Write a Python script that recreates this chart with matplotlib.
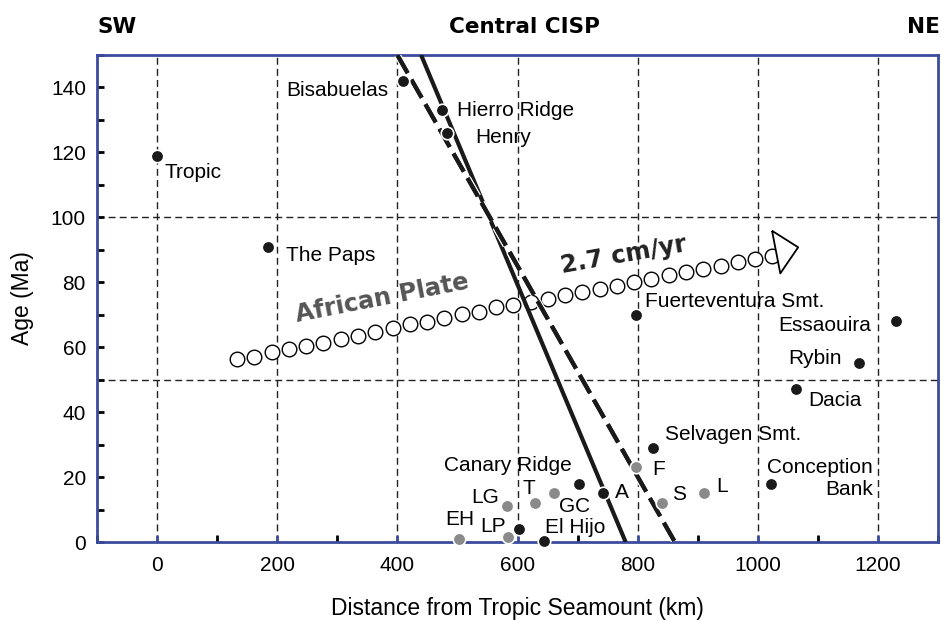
import matplotlib
matplotlib.use("Agg")
import matplotlib.pyplot as plt
import matplotlib.patheffects as pe
from matplotlib.ticker import MultipleLocator

plt.rcParams['font.family'] = ['Liberation Sans', 'DejaVu Sans']

# seamounts with ages (black dots)
black_names = ['Tropic', 'The Paps', 'Bisabuelas', 'Hierro Ridge', 'Henry',
               'Fuerteventura Smt.', 'Essaouira', 'Rybin', 'Dacia', 'Selvagen Smt.',
               'Conception Bank', 'Canary Ridge', 'A', 'LP', 'El Hijo']
black_x = [0, 185, 410, 474, 483, 798, 1230, 1168, 1064, 826, 1022, 703, 742, 602, 644]
black_y = [119, 91, 142, 133, 126, 70, 68, 55, 47, 29, 18, 18, 15, 4, 0.4]

# island volcanism (grey dots)
grey_names = ['EH', 'LG', 'LP', 'T', 'GC', 'F', 'S', 'L']
grey_x = [502, 583, 584, 629, 661, 798, 840, 910]
grey_y = [1, 11, 1.6, 12, 15, 23, 12, 15]

# African plate track (open circles)
track_x = [133, 162, 191, 219, 248, 277, 306, 334, 363, 392, 421, 449, 478, 507, 536, 564,
           593, 622, 651, 679, 708, 737, 766, 794, 823, 852, 881, 909, 938, 967, 996, 1024]
track_y = [56.3, 57.1, 58.4, 59.3, 60.4, 61.4, 62.4, 63.4, 64.8, 65.8, 67.1, 67.8, 68.9, 70.1, 70.9, 72.3,
           73.0, 74.0, 75.0, 76.0, 77.0, 78.0, 79.0, 80.1, 81.1, 82.1, 83.1, 84.1, 85.1, 86.1, 87.1, 88.1]
arrow_x, arrow_y = 1042, 90

# age progression lines
solid_x = [439.5, 780]
solid_y = [150, 0]
dash_x = [400, 862]
dash_y = [150, 0]

# label text positions: (text, x, y, ha)
labels = [
    ('Bisabuelas', 385, 139.2, 'right'),
    ('Hierro Ridge', 499, 133, 'left'),
    ('Henry', 530, 124.6, 'left'),
    ('Tropic', 13, 113.7, 'left'),
    ('The Paps', 214, 88.4, 'left'),
    ('Fuerteventura Smt.', 813, 74, 'left'),
    ('Essaouira', 1189, 66.8, 'right'),
    ('Rybin', 1139, 56.6, 'right'),
    ('Dacia', 1084, 43.5, 'left'),
    ('Selvagen Smt.', 846, 33, 'left'),
    ('Conception\nBank', 1192, 19.6, 'right'),
    ('Canary Ridge', 478, 23.5, 'left'),
    ('T', 609, 16.5, 'left'),
    ('GC', 669, 10.9, 'left'),
    ('LG', 569, 13.8, 'right'),
    ('EH', 479, 6.8, 'left'),
    ('LP', 581, 4.7, 'right'),
    ('El Hijo', 645, 4.4, 'left'),
    ('A', 762, 15.2, 'left'),
    ('F', 825, 22.4, 'left'),
    ('S', 858, 14.7, 'left'),
    ('L', 931, 17, 'left'),
]

spine_blue = '#3b4c9e'

fig = plt.figure(figsize=(9.41, 6.21), dpi=100)
ax = fig.add_axes([0.1031, 0.1272, 0.8937, 0.7842])

ax.set_xlim(-100, 1300)
ax.set_ylim(0, 150)

# dashed grid
for gx in range(0, 1201, 200):
    ax.axvline(gx, color='#222222', lw=1.0, dashes=(5, 3), zorder=1)
for gy in (50, 100):
    ax.axhline(gy, color='#222222', lw=1.0, dashes=(5, 3), zorder=1)

# plate track
ax.plot(track_x, track_y, 'o', ms=10.5, mfc='white', mec='black', mew=1.0, zorder=3)
tri = [(-0.5, 0.86), (-0.14, -1.0), (0.64, 0.14), (-0.5, 0.86)]
ax.plot([arrow_x], [arrow_y], marker=tri, ms=33, mfc='white', mec='black', mew=1.3,
        ls='none', zorder=3)

# age lines
ax.plot(solid_x, solid_y, color='#1a1a1a', lw=3, solid_capstyle='butt', zorder=4)
ax.plot(dash_x, dash_y, color='#1a1a1a', lw=3, dashes=(5, 1.8), zorder=4,
        path_effects=[pe.withStroke(linewidth=5, foreground='white'), pe.Normal()])

# dots
ax.plot(grey_x, grey_y, 'o', ms=9, color='#8a8a8a', mec='white', mew=1.2, zorder=5, clip_on=False)
ax.plot(black_x, black_y, 'o', ms=9, color='#1a1a1a', mec='white', mew=1.2, zorder=5, clip_on=False)

for txt, tx, ty, ha in labels:
    ax.text(tx, ty, txt, ha=ha, va='center', fontsize=15, multialignment=ha,
            linespacing=1.15, zorder=6)

ax.text(375, 75, 'African Plate', rotation=11, rotation_mode='anchor', ha='center',
        va='center', fontsize=17.5, fontweight='bold', color='#555555',
        family=['DejaVu Sans'], zorder=6)
ax.text(777, 88.5, '2.7 cm/yr', rotation=10, rotation_mode='anchor', ha='center',
        va='center', fontsize=17.5, fontweight='bold', color='#222222',
        family=['DejaVu Sans'], zorder=6)

# header
for htxt, hx, hha in [('SW', 0.0, 'left'), ('Central CISP', 0.508, 'center'), ('NE', 1.002, 'right')]:
    ax.text(hx, 1.045, htxt, transform=ax.transAxes, ha=hha, va='baseline',
            fontsize=15.5, fontweight='bold', family=['DejaVu Sans'])

ax.xaxis.set_major_locator(MultipleLocator(200))
ax.xaxis.set_minor_locator(MultipleLocator(100))
ax.yaxis.set_major_locator(MultipleLocator(20))
ax.yaxis.set_minor_locator(MultipleLocator(10))
ax.tick_params(axis='both', which='both', direction='in', length=5, width=2, labelsize=15)
ax.tick_params(axis='x', which='major', color=spine_blue, pad=10)
ax.tick_params(axis='y', which='major', pad=8)

for s in ax.spines.values():
    s.set_color(spine_blue)
    s.set_linewidth(2)

ax.set_xlabel('Distance from Tropic Seamount (km)', fontsize=16.5, labelpad=16)
ax.set_ylabel('Age (Ma)', fontsize=16.5, labelpad=12)

fig.savefig('out.png', dpi=100)
